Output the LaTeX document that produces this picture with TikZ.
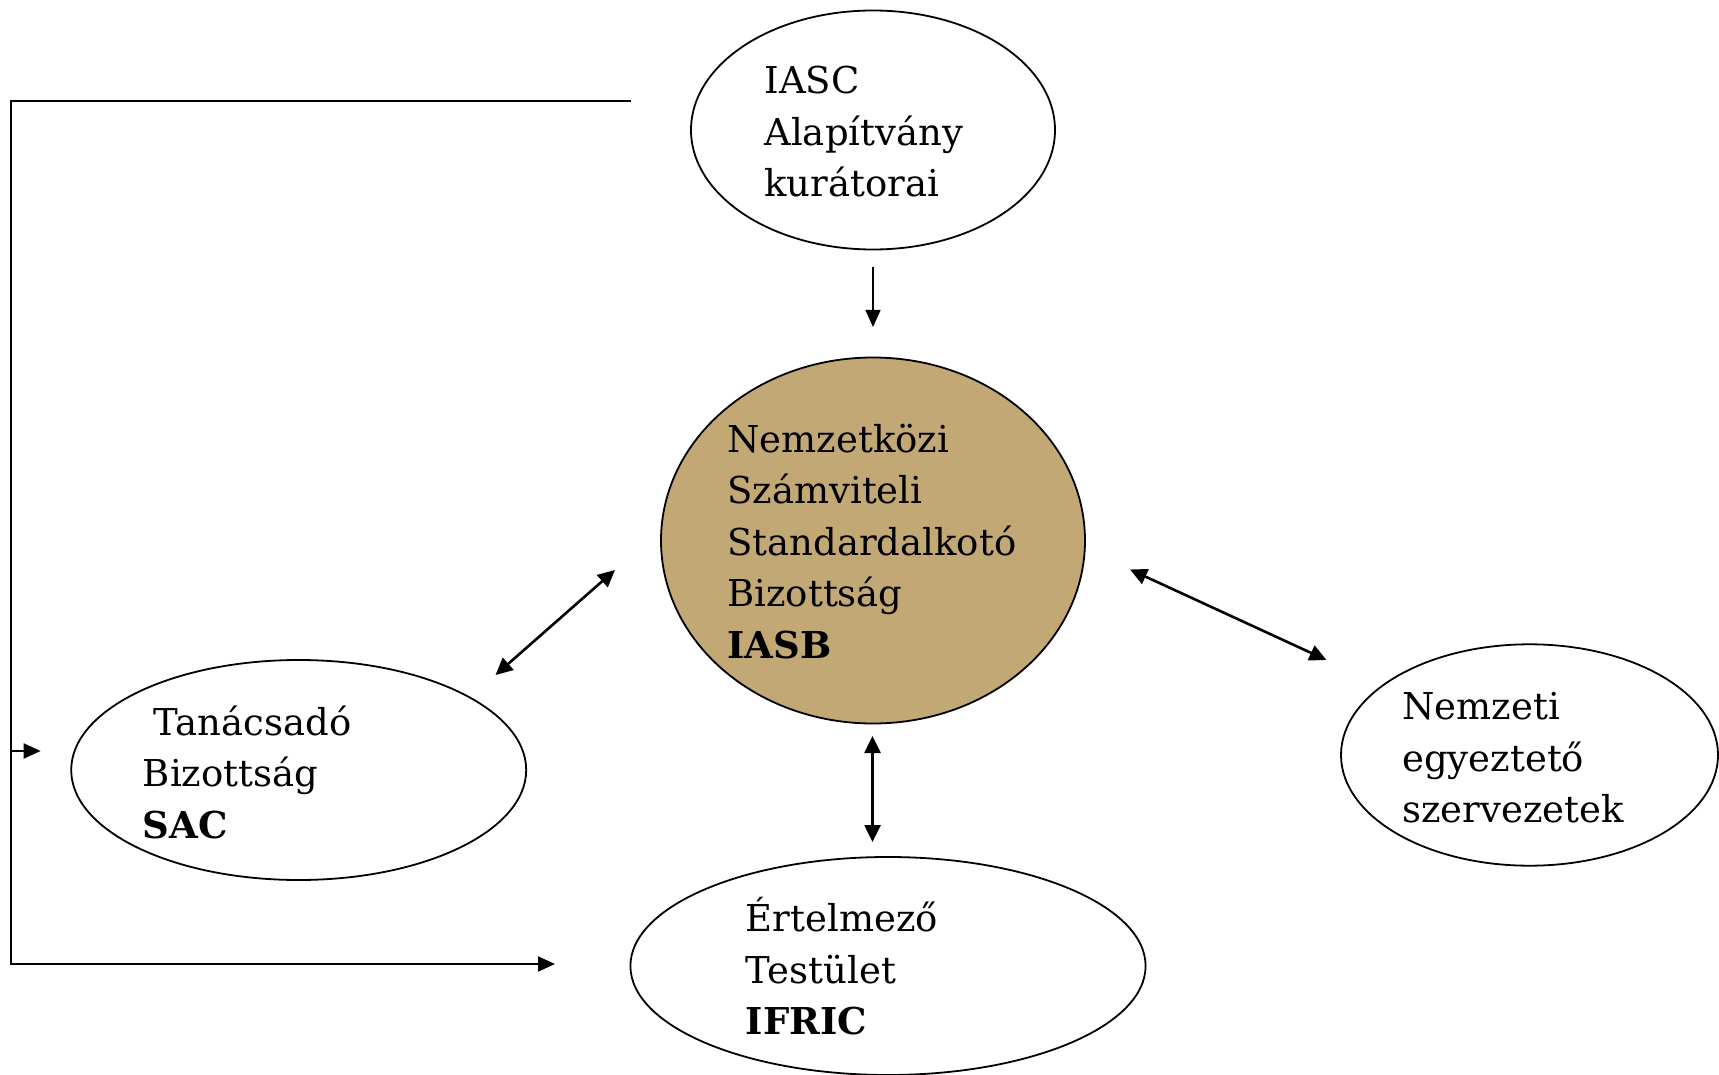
\documentclass[tikz,border=0pt]{standalone}
\usepackage{fontspec}
\setmainfont{DejaVu Serif}
\usetikzlibrary{shapes.geometric,arrows.meta}
\definecolor{iasbtan}{RGB}{193,168,117}
\tikzset{
  org/.style={draw,ellipse,line width=0.9pt,inner sep=0pt},
  lbl/.style={anchor=base west,align=left,inner sep=0pt,
    font=\fontsize{18.5}{25.7}\selectfont},
  link/.style={line width=1.3pt,
    {Triangle[length=8.5pt,width=8pt]}-{Triangle[length=8.5pt,width=8pt]}},
  feed/.style={line width=1pt,-{Triangle[length=8.5pt,width=7.5pt]}}
}
\begin{document}
\begin{tikzpicture}[x=0.5pt,y=-0.5pt]
  \useasboundingbox (0,0) rectangle (1719,1075);
  % ellipses
  \node[org,minimum width=182pt,minimum height=119.5pt] (iasc) at (873,130) {};
  \node[org,fill=iasbtan,minimum width=212pt,minimum height=183pt] (iasb) at (873,540.5) {};
  \node[org,minimum width=227.5pt,minimum height=110pt] (sac) at (298.7,770) {};
  \node[org,minimum width=188.5pt,minimum height=110.7pt] (nat) at (1529.5,755) {};
  \node[org,minimum width=257.6pt,minimum height=109pt] (ifric) at (888,966) {};
  % texts (anchored on the last line)
  \node[lbl] (iasctxt) at (764,196.5) {IASC\\Alapítvány\\kurátorai};
  \node[lbl] (iasbtxt) at (727,658) {Nemzetközi\\Számviteli\\Standardalkotó\\Bizottság\\\textbf{IASB}};
  \node[lbl] (sactxt) at (142.5,838) {\hspace{5.5pt}Tanácsadó\\Bizottság\\\textbf{SAC}};
  \node[lbl] (nattxt) at (1402,822.5) {Nemzeti\\egyeztető\\szervezetek};
  \node[lbl] (ifrictxt) at (745.5,1034.5) {Értelmező\\Testület\\\textbf{IFRIC}};
  % arrow ends
  \coordinate (down1) at (873,267);
  \coordinate (down2) at (873,327);
  \coordinate (sacend) at (495.5,675);
  \coordinate (sacbeg) at (615,570);
  \coordinate (natbeg) at (1130,569.5);
  \coordinate (natend) at (1326.5,660);
  \coordinate (ifrbeg) at (872.5,736);
  \coordinate (ifrend) at (872.5,842);
  \draw[feed,line width=0.7pt] (down1) -- (down2);
  \draw[link] (sacbeg) -- (sacend);
  \draw[link] (natbeg) -- (natend);
  \draw[link] (ifrbeg) -- (ifrend);
  % feedback rail
  \pgfmathsetmacro\rail{11}
  \coordinate (railtop) at (631,101);
  \coordinate (railsac) at (40.7,751);
  \coordinate (railifr) at (555,964);
  \draw[feed] (railtop) -- (\rail,101) -- (\rail,964) -- (railifr);
  \draw[feed] (\rail,751) -- (railsac);
\end{tikzpicture}
\end{document}
